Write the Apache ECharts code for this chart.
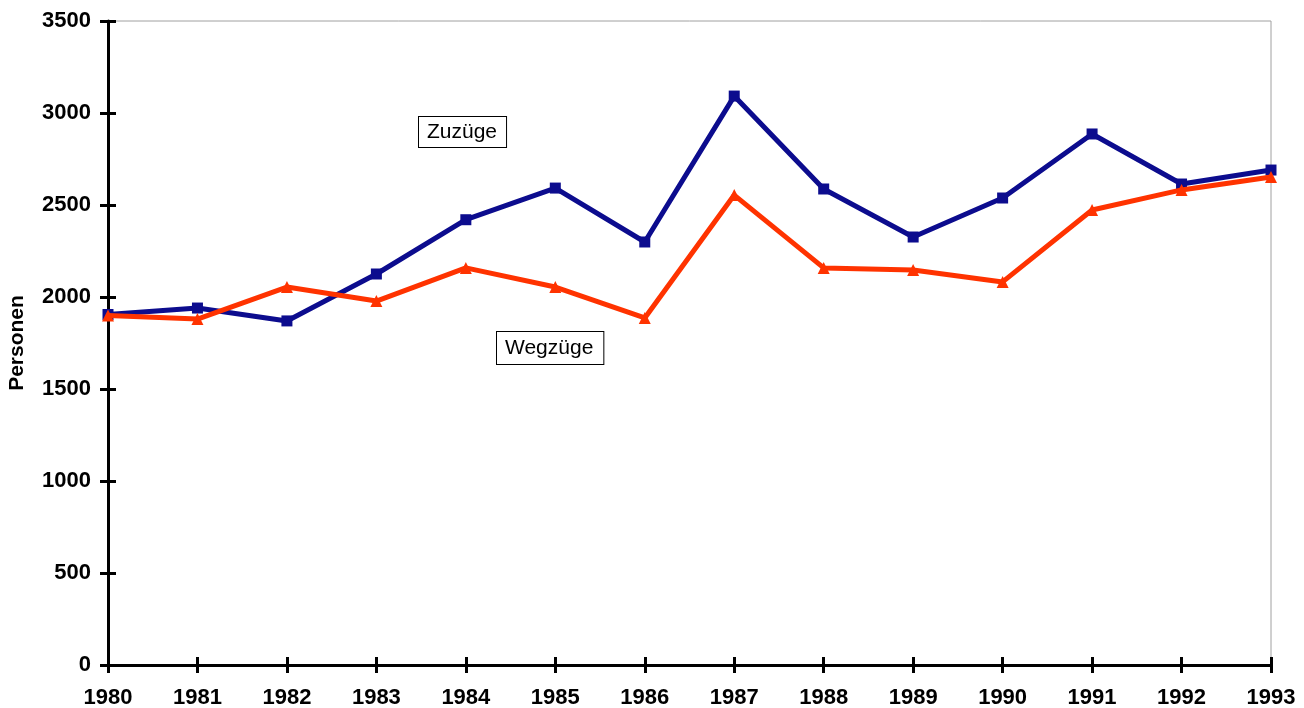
<!DOCTYPE html>
<html>
<head>
<meta charset="utf-8" />
<title></title>
<script src="https://cdn.jsdelivr.net/npm/echarts@6/dist/echarts.min.js"></script>
<style>
*{ padding:0; margin:0; }
#main{ width:1304px; height:708px; background:#fff; }
</style>
</head>
<body>
<div id="main"></div>
<script type="text/javascript">
// Jahre (x-Achse)
var years = ['1980','1981','1982','1983','1984','1985','1986','1987','1988','1989','1990','1991','1992','1993'];
// Zuzüge / Wegzüge in Personen
var zuzuege = [1905, 1940, 1870, 2125, 2420, 2592, 2299, 3092, 2587, 2326, 2538, 2886, 2614, 2690];
var wegzuege = [1900, 1880, 2054, 1978, 2158, 2054, 1886, 2554, 2158, 2147, 2082, 2473, 2582, 2652];

var myChart = echarts.init(document.getElementById('main'));

var font = 'Liberation Sans, Arial, sans-serif';
var tickStyle = { color: '#000', width: 3 };

var option = {
    backgroundColor: '#fff',
    animation: false,
    grid: {
        left: 108, right: 33, top: 21, bottom: 43,
        containLabel: false,
        outerBoundsMode: 'none',
        show: true, borderColor: '#a0a0a0', borderWidth: 1
    },
    xAxis: [{
        type: 'category',
        data: years,
        boundaryGap: false,
        position: 'bottom',
        axisLine: { show: true, onZero: false, lineStyle: { color: '#000', width: 3 } },
        splitLine: { show: false },
        axisTick: { show: true, inside: false, length: 8, lineStyle: tickStyle },
        axisLabel: { color: '#000', fontFamily: font, fontWeight: 'bold', fontSize: 22, margin: 22 }
    }, {
        type: 'category',
        data: years,
        boundaryGap: false,
        position: 'bottom',
        axisLine: { show: false },
        splitLine: { show: false },
        axisTick: { show: true, inside: true, length: 8, lineStyle: tickStyle },
        axisLabel: { show: false }
    }],
    yAxis: [{
        type: 'value',
        min: 0, max: 3500, interval: 500,
        position: 'left',
        name: 'Personen',
        nameLocation: 'middle',
        nameGap: 80,
        nameTextStyle: { color: '#000', fontFamily: font, fontWeight: 'bold', fontSize: 21 },
        axisLine: { show: true, onZero: false, lineStyle: { color: '#000', width: 3 } },
        splitLine: { show: false },
        axisTick: { show: true, inside: false, length: 8, lineStyle: tickStyle },
        axisLabel: {
            color: '#000', fontFamily: font, fontWeight: 'bold', fontSize: 22, margin: 17,
            formatter: function (v) { return String(v); }
        }
    }, {
        type: 'value',
        min: 0, max: 3500, interval: 500,
        position: 'left',
        axisLine: { show: false },
        splitLine: { show: false },
        axisTick: { show: true, inside: true, length: 8, lineStyle: tickStyle },
        axisLabel: { show: false }
    }],
    series: [{
        name: 'Zuzüge',
        type: 'line',
        data: zuzuege,
        symbol: 'rect',
        symbolSize: 11,
        lineStyle: { color: '#0c0c8e', width: 5 },
        itemStyle: { color: '#0c0c8e' },
        z: 3
    }, {
        name: 'Wegzüge',
        type: 'line',
        data: wegzuege,
        symbol: 'triangle',
        symbolSize: 12,
        lineStyle: { color: '#ff3300', width: 5 },
        itemStyle: { color: '#ff3300' },
        z: 4
    }],
    graphic: [{
        type: 'text',
        left: 418, top: 116,
        style: {
            text: 'Zuzüge', fill: '#000', font: '21px ' + font,
            backgroundColor: '#fff', borderColor: '#000', borderWidth: 1,
            padding: [5, 9, 4, 8]
        }
    }, {
        type: 'text',
        left: 496, top: 331,
        style: {
            text: 'Wegzüge', fill: '#000', font: '21px ' + font,
            backgroundColor: '#fff', borderColor: '#000', borderWidth: 1,
            padding: [6, 10, 5, 8]
        }
    }]
};

myChart.setOption(option);
</script>
</body>
</html>
